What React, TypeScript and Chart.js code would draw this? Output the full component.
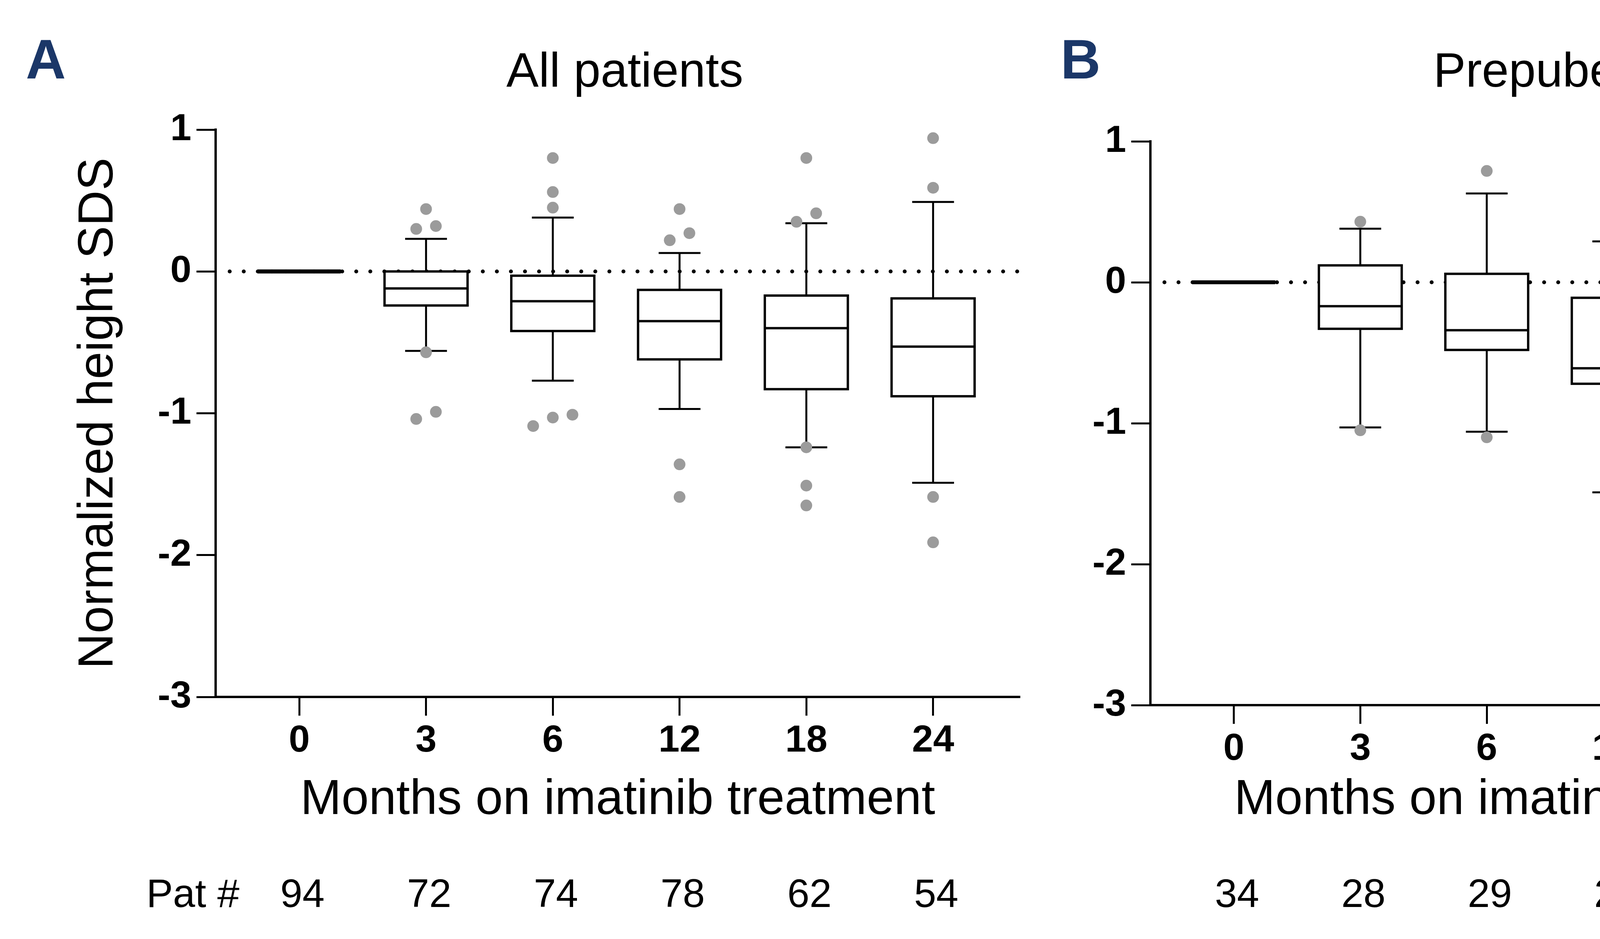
import React, { useEffect, useRef } from 'react';
import { Chart, registerables } from 'chart.js';

Chart.register(...registerables);

const FONT = "'Liberation Sans', Arial, Helvetica, sans-serif";

const months = ['0', '3', '6', '12', '18', '24'];

// A: all patients
const allHigh = [0, 0.23, 0.38, 0.13, 0.34, 0.49];
const allQ3 = [0, 0.0, -0.03, -0.13, -0.17, -0.19];
const allMedian = [0, -0.12, -0.21, -0.35, -0.4, -0.53];
const allQ1 = [0, -0.24, -0.42, -0.62, -0.83, -0.88];
const allLow = [0, -0.56, -0.77, -0.97, -1.24, -1.49];
const allOutliers = [
    [],
    [0.44, 0.32, 0.3, -0.57, -0.99, -1.04],
    [0.8, 0.56, 0.45, -1.01, -1.03, -1.09],
    [0.44, 0.27, 0.22, -1.36, -1.59],
    [0.8, 0.41, 0.35, -1.24, -1.51, -1.65],
    [0.94, 0.59, -1.59, -1.91],
];
const allPatients = [94, 72, 74, 78, 62, 54];

// B: prepubertal
const preHigh = [0, 0.38, 0.63, 0.29, 0.63, 0.87];
const preQ3 = [0, 0.12, 0.06, -0.11, -0.17, -0.08];
const preMedian = [0, -0.17, -0.34, -0.61, -0.51, -0.55];
const preQ1 = [0, -0.33, -0.48, -0.72, -0.95, -0.89];
const preLow = [0, -1.03, -1.06, -1.49, -1.6, -1.85];
const preOutliers = [
    [],
    [0.43, -1.05],
    [0.79, -1.1],
    [0.44, -1.59],
    [0.79, -1.65],
    [0.94, -1.91],
];
const prePatients = [34, 28, 29, 29, 27, 23];

// C: pubertal
const pubHigh = [0, 0.17, 0.32, 0.17, 0.21, 0.19];
const pubQ3 = [0, -0.01, -0.03, -0.13, -0.26, -0.22];
const pubMedian = [0, -0.08, -0.2, -0.31, -0.37, -0.51];
const pubQ1 = [0, -0.22, -0.38, -0.54, -0.69, -0.9];
const pubLow = [0, -0.48, -0.57, -0.86, -1.23, -1.33];
const pubOutliers = [
    [],
    [0.19, 0.17, -0.49, -0.52],
    [0.56, 0.32, -0.57, -0.69],
    [0.26, 0.22, -0.88, -0.88],
    [0.28, -1.25],
    [0.34, -1.47],
];
const pubPatients = [60, 44, 45, 50, 35, 31];

const PAGE_H = 2405;
const X_TITLE_BOTTOM = 2113; // lower edge of the x axis block

interface Panel {
    letter: string;
    title: string;
    yTitle?: string;
    high: number[];
    q3: number[];
    median: number[];
    q1: number[];
    low: number[];
    outliers: number[][];
    patients: number[];
    // where the canvas sits on the page and how its plot area is placed
    left: number;
    width: number;
    padLeft: number;
    yWidth: number;
    padRight: number;
    padTop: number;
    xHeight: number;
    letterX: number;
}

const panels: Panel[] = [
    {
        letter: 'A', title: 'All patients', yTitle: 'Normalized height SDS',
        high: allHigh, q3: allQ3, median: allMedian, q1: allQ1, low: allLow,
        outliers: allOutliers, patients: allPatients,
        left: 0, width: 2680, padLeft: 150, yWidth: 402, padRight: 69, padTop: 332, xHeight: 328, letterX: 66,
    },
    {
        letter: 'B', title: 'Prepubertal',
        high: preHigh, q3: preQ3, median: preMedian, q1: preQ1, low: preLow,
        outliers: preOutliers, patients: prePatients,
        left: 2680, width: 2400, padLeft: 0, yWidth: 265, padRight: 81, padTop: 362, xHeight: 307, letterX: 35,
    },
    {
        letter: 'C', title: 'Pubertal',
        high: pubHigh, q3: pubQ3, median: pubMedian, q1: pubQ1, low: pubLow,
        outliers: pubOutliers, patients: pubPatients,
        left: 5080, width: 2438, padLeft: 0, yWidth: 294, padRight: 90, padTop: 350, xHeight: 321, letterX: 40,
    },
];

// points that would overlap are spread sideways, like a small beeswarm
function spreadOutliers(values: number[][]) {
    const pts: { x: number; y: number }[] = [];
    values.forEach((vals, i) => {
        const sorted = [...vals].sort((a, b) => a - b);
        let group: number[] = [];
        const flush = () => {
            group.forEach((v, k) => pts.push({ x: i + (k - (group.length - 1) / 2) * 0.155, y: v }));
            group = [];
        };
        sorted.forEach((v) => {
            if (group.length && v - group[group.length - 1] >= 0.083) flush();
            group.push(v);
        });
        flush();
    });
    return pts;
}

const boxPlugin = (panel: Panel) => ({
    id: 'boxes',
    beforeDatasetsDraw(chart: Chart) {
        const { ctx, chartArea } = chart;
        const x = chart.scales.x;
        const y = chart.scales.y;
        const step = x.getPixelForValue(1) - x.getPixelForValue(0);
        const boxHalf = (step * 0.655) / 2;
        const capHalf = (step * 0.33) / 2;
        const zero = y.getPixelForValue(0);

        ctx.save();
        // dotted reference line at 0
        ctx.strokeStyle = '#000';
        ctx.lineWidth = 10;
        ctx.lineCap = 'round';
        ctx.setLineDash([0, 36]);
        ctx.beginPath();
        ctx.moveTo(chartArea.left + 36, zero);
        ctx.lineTo(chartArea.right, zero);
        ctx.stroke();
        ctx.setLineDash([]);
        ctx.lineCap = 'butt';

        panel.median.forEach((m, i) => {
            const cx = x.getPixelForValue(i);
            const hi = y.getPixelForValue(panel.high[i]);
            const lo = y.getPixelForValue(panel.low[i]);
            const top = y.getPixelForValue(panel.q3[i]);
            const bottom = y.getPixelForValue(panel.q1[i]);
            const med = y.getPixelForValue(m);

            // whiskers and caps
            ctx.lineWidth = 5;
            ctx.beginPath();
            ctx.moveTo(cx, hi);
            ctx.lineTo(cx, top);
            ctx.moveTo(cx, bottom);
            ctx.lineTo(cx, lo);
            if (hi !== top) {
                ctx.moveTo(cx - capHalf, hi);
                ctx.lineTo(cx + capHalf, hi);
            }
            if (lo !== bottom) {
                ctx.moveTo(cx - capHalf, lo);
                ctx.lineTo(cx + capHalf, lo);
            }
            ctx.stroke();

            // box and median (a flat box collapses to one thick bar)
            ctx.lineWidth = bottom - top < 1 ? 10 : 6;
            ctx.fillStyle = '#fff';
            ctx.fillRect(cx - boxHalf, top, boxHalf * 2, bottom - top);
            ctx.strokeRect(cx - boxHalf, top, boxHalf * 2, bottom - top);
            ctx.beginPath();
            ctx.moveTo(cx - boxHalf, med);
            ctx.lineTo(cx + boxHalf, med);
            ctx.stroke();
        });
        ctx.restore();
    },
    afterDraw(chart: Chart) {
        const { ctx, chartArea } = chart;
        const x = chart.scales.x;
        ctx.save();
        ctx.textBaseline = 'alphabetic';

        // panel letter
        ctx.fillStyle = '#1b3768';
        ctx.font = `bold 142px ${FONT}`;
        ctx.textAlign = 'left';
        ctx.fillText(panel.letter, panel.letterX, 201);

        // panel title
        ctx.fillStyle = '#000';
        ctx.font = `124px ${FONT}`;
        ctx.textAlign = 'center';
        ctx.fillText(panel.title, (chartArea.left + chartArea.right) / 2 + 18, 222);

        // patient counts under each time point
        ctx.font = `102px ${FONT}`;
        panel.patients.forEach((n, i) => {
            ctx.fillText(String(n), x.getPixelForValue(i) + 8, 2323);
        });
        if (panel.yTitle) {
            ctx.textAlign = 'right';
            ctx.fillText('Pat #', chartArea.left + 61, 2323);
        }
        ctx.restore();
    },
});

const BoxPanel: React.FC<{ panel: Panel }> = ({ panel }) => {
    const canvasRef = useRef<HTMLCanvasElement>(null);
    const chartInstanceRef = useRef<Chart | null>(null);

    useEffect(() => {
        if (!canvasRef.current) return;
        if (chartInstanceRef.current) {
            chartInstanceRef.current.destroy();
        }

        chartInstanceRef.current = new Chart(canvasRef.current, {
            type: 'scatter',
            data: {
                datasets: [
                    {
                        label: 'outliers',
                        data: spreadOutliers(panel.outliers),
                        pointRadius: 15,
                        pointHoverRadius: 15,
                        pointBackgroundColor: '#9b9b9b',
                        pointBorderWidth: 0,
                    },
                ],
            },
            options: {
                animation: false,
                responsive: true,
                maintainAspectRatio: false,
                layout: {
                    padding: {
                        left: panel.padLeft,
                        right: panel.padRight,
                        top: panel.padTop,
                        bottom: PAGE_H - X_TITLE_BOTTOM,
                    },
                },
                plugins: {
                    legend: { display: false },
                    tooltip: { enabled: false },
                },
                scales: {
                    x: {
                        type: 'linear',
                        min: -0.66,
                        max: 5.685,
                        afterBuildTicks: (scale) => {
                            scale.ticks = months.map((_, i) => ({ value: i }));
                        },
                        afterFit: (scale) => {
                            scale.height = panel.xHeight;
                        },
                        ticks: {
                            callback: (value) => months[Number(value)] ?? '',
                            color: '#000',
                            padding: 17,
                            font: { family: FONT, size: 97, weight: 'bold', lineHeight: 1 },
                        },
                        grid: {
                            display: true,
                            drawOnChartArea: false,
                            drawTicks: true,
                            tickLength: 48,
                            tickWidth: 5,
                            tickColor: '#000',
                        },
                        border: { display: true, color: '#000', width: 6 },
                        title: {
                            display: true,
                            text: 'Months on imatinib treatment',
                            color: '#000',
                            font: { family: FONT, size: 126, lineHeight: 1 },
                            padding: { top: 0, bottom: 0 },
                        },
                    },
                    y: {
                        type: 'linear',
                        min: -3,
                        max: 1,
                        afterFit: (scale) => {
                            scale.width = panel.yWidth;
                        },
                        ticks: {
                            stepSize: 1,
                            color: '#000',
                            padding: 13,
                            font: { family: FONT, size: 97, weight: 'bold', lineHeight: 1 },
                        },
                        grid: {
                            display: true,
                            drawOnChartArea: false,
                            drawTicks: true,
                            tickLength: 49,
                            tickWidth: 5,
                            tickColor: '#000',
                        },
                        border: { display: true, color: '#000', width: 6 },
                        title: {
                            display: !!panel.yTitle,
                            text: panel.yTitle ?? '',
                            color: '#000',
                            font: { family: FONT, size: 126, lineHeight: 1 },
                            padding: { top: 40, bottom: 0 },
                        },
                    },
                },
            },
            plugins: [boxPlugin(panel)],
        });

        return () => {
            if (chartInstanceRef.current) {
                chartInstanceRef.current.destroy();
                chartInstanceRef.current = null;
            }
        };
    }, [panel]);

    return (
        <div style={{ position: 'absolute', left: panel.left, top: 0, width: panel.width, height: PAGE_H }}>
            <canvas ref={canvasRef} />
        </div>
    );
};

export default function App() {
    return (
        <div style={{ position: 'absolute', left: 0, top: 0, width: 7518, height: PAGE_H, background: '#fff' }}>
            {panels.map((p) => (
                <BoxPanel key={p.letter} panel={p} />
            ))}
        </div>
    );
}
